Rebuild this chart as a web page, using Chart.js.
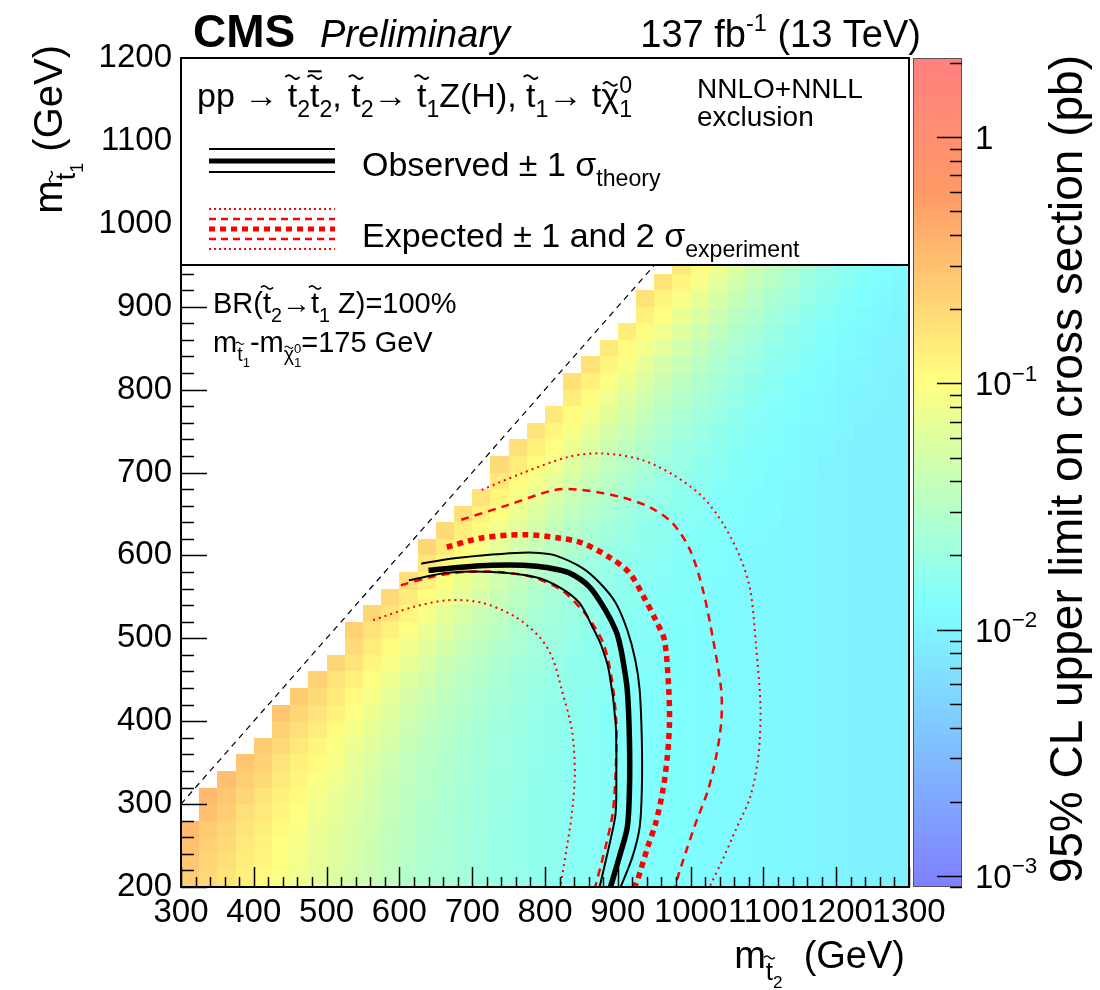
<!DOCTYPE html>
<html>
<head>
<meta charset="utf-8">
<script src="https://cdn.jsdelivr.net/npm/chart.js@4.4.0/dist/chart.umd.min.js"></script>
<style>
  html, body { margin: 0; padding: 0; background: #fff; }
</style>
</head>
<body>
<canvas id="limitChart" width="1100" height="990"></canvas>
<script>
const _ = null;
const FONT = '"Liberation Sans", Arial, Helvetica, sans-serif';

// bin edges of the limit map (GeV)
const mStop2Edges = [300,325,350,375,400,425,450,475,500,525,550,575,600,625,650,675,700,725,750,775,800,
  825,850,875,900,925,950,975,1000,1025,1050,1075,1100,1125,1150,1175,1200,1225,1250,1275,1300];
const mStop1Edges = [200,220,240,260,280,300,320,340,360,380,400,420,440,460,480,500,520,540,560,580,600,
  620,640,660,680,700,720,740,760,780,800,820,840,860,880,900,920,940,960];

// 95% CL upper limit on cross section (pb), one row per m(stop1) bin, one value per m(stop2) bin
const limitRows = [
  [0.25,0.20,0.165,0.13,0.11,0.094,0.080,0.068,0.058,0.049,0.043,0.036,0.031,0.027,0.025,0.0225,0.021,0.019,0.0178,0.0167,0.0158,0.0151,0.0145,0.0139,0.0137,0.0132,0.0128,0.0125,0.0122,0.0119,0.0116,0.0113,0.011,0.0107,0.0104,0.0101,0.0098,0.0096,0.0094,0.0092],
  [0.27,0.21,0.18,0.14,0.12,0.098,0.083,0.070,0.060,0.051,0.044,0.037,0.031,0.027,0.025,0.023,0.021,0.019,0.0178,0.0167,0.0158,0.0151,0.0145,0.0139,0.0137,0.0132,0.0128,0.0125,0.0122,0.0119,0.0116,0.0113,0.011,0.0107,0.0104,0.0101,0.0098,0.0096,0.0094,0.0092],
  [0.30,0.23,0.19,0.15,0.125,0.104,0.087,0.073,0.062,0.052,0.045,0.037,0.032,0.028,0.025,0.023,0.021,0.019,0.0178,0.0167,0.0158,0.0151,0.0145,0.0139,0.0137,0.0132,0.0128,0.0125,0.0122,0.0119,0.0116,0.0113,0.011,0.0107,0.0104,0.0101,0.0098,0.0096,0.0094,0.0092],
  [0.34,0.26,0.21,0.165,0.135,0.11,0.092,0.076,0.064,0.054,0.046,0.038,0.033,0.028,0.026,0.023,0.021,0.019,0.0178,0.0167,0.0158,0.0151,0.0145,0.0139,0.0137,0.0132,0.0128,0.0125,0.0122,0.0119,0.0116,0.0113,0.011,0.0107,0.0104,0.0101,0.0098,0.0096,0.0094,0.0092],
  [_,0.30,0.24,0.18,0.15,0.12,0.099,0.081,0.068,0.056,0.048,0.040,0.034,0.029,0.026,0.024,0.022,0.020,0.0178,0.0167,0.0158,0.0151,0.0145,0.0139,0.0137,0.0132,0.0128,0.0125,0.0122,0.0119,0.0116,0.0113,0.011,0.0107,0.0104,0.0101,0.0098,0.0096,0.0094,0.0092],
  [_,0.34,0.27,0.21,0.165,0.13,0.11,0.088,0.072,0.060,0.050,0.041,0.035,0.030,0.027,0.024,0.022,0.020,0.0185,0.0167,0.0158,0.0151,0.0145,0.0139,0.0137,0.0132,0.0128,0.0125,0.0122,0.0119,0.0116,0.0113,0.011,0.0107,0.0104,0.0101,0.0098,0.0096,0.0094,0.0092],
  [_,_,0.31,0.24,0.19,0.15,0.12,0.096,0.078,0.064,0.053,0.043,0.036,0.031,0.028,0.025,0.022,0.020,0.019,0.017,0.0158,0.0151,0.0145,0.0139,0.0137,0.0132,0.0128,0.0125,0.0122,0.0119,0.0116,0.0113,0.011,0.0107,0.0104,0.0101,0.0098,0.0096,0.0094,0.0092],
  [_,_,_,0.28,0.22,0.17,0.13,0.11,0.086,0.069,0.057,0.046,0.038,0.032,0.029,0.025,0.023,0.021,0.019,0.0175,0.0165,0.0151,0.0145,0.0139,0.0137,0.0132,0.0128,0.0125,0.0122,0.0119,0.0116,0.0113,0.011,0.0107,0.0104,0.0101,0.0098,0.0096,0.0094,0.0092],
  [_,_,_,_,0.25,0.20,0.15,0.12,0.096,0.076,0.062,0.050,0.041,0.034,0.030,0.026,0.024,0.021,0.019,0.018,0.017,0.0156,0.0145,0.0139,0.0137,0.0132,0.0128,0.0125,0.0122,0.0119,0.0116,0.0113,0.011,0.0107,0.0104,0.0101,0.0098,0.0096,0.0094,0.0092],
  [_,_,_,_,_,0.23,0.18,0.14,0.11,0.086,0.069,0.055,0.044,0.037,0.032,0.027,0.024,0.022,0.020,0.018,0.017,0.016,0.015,0.0139,0.0137,0.0132,0.0128,0.0125,0.0122,0.0119,0.0116,0.0113,0.011,0.0107,0.0104,0.0101,0.0098,0.0096,0.0094,0.0092],
  [_,_,_,_,_,0.28,0.21,0.16,0.125,0.097,0.077,0.061,0.049,0.040,0.034,0.029,0.026,0.023,0.020,0.0185,0.017,0.016,0.015,0.0139,0.0137,0.0132,0.0128,0.0125,0.0122,0.0119,0.0116,0.0113,0.011,0.0107,0.0104,0.0101,0.0098,0.0096,0.0094,0.0092],
  [_,_,_,_,_,_,0.25,0.19,0.15,0.11,0.088,0.068,0.054,0.044,0.037,0.031,0.027,0.024,0.021,0.019,0.0175,0.016,0.015,0.0145,0.0137,0.0132,0.0128,0.0125,0.0122,0.0119,0.0116,0.0113,0.011,0.0107,0.0104,0.0101,0.0098,0.0096,0.0094,0.0092],
  [_,_,_,_,_,_,_,0.23,0.17,0.13,0.10,0.079,0.061,0.049,0.040,0.034,0.029,0.025,0.022,0.020,0.018,0.017,0.016,0.015,0.014,0.0132,0.0128,0.0125,0.0122,0.0119,0.0116,0.0113,0.011,0.0107,0.0104,0.0101,0.0098,0.0096,0.0094,0.0092],
  [_,_,_,_,_,_,_,_,0.21,0.16,0.12,0.092,0.071,0.056,0.045,0.037,0.031,0.027,0.023,0.021,0.019,0.017,0.016,0.015,0.0145,0.014,0.0128,0.0125,0.0122,0.0119,0.0116,0.0113,0.011,0.0107,0.0104,0.0101,0.0098,0.0096,0.0094,0.0092],
  [_,_,_,_,_,_,_,_,_,0.19,0.14,0.11,0.083,0.064,0.052,0.042,0.035,0.029,0.025,0.022,0.020,0.018,0.016,0.015,0.0147,0.0139,0.0133,0.0125,0.0122,0.0119,0.0116,0.0113,0.011,0.0107,0.0104,0.0101,0.0098,0.0096,0.0094,0.0092],
  [_,_,_,_,_,_,_,_,_,0.23,0.17,0.13,0.099,0.076,0.060,0.047,0.039,0.032,0.027,0.023,0.021,0.019,0.017,0.0156,0.0149,0.0141,0.0134,0.0125,0.0122,0.0119,0.0116,0.0113,0.011,0.0107,0.0104,0.0101,0.0098,0.0096,0.0094,0.0092],
  [_,_,_,_,_,_,_,_,_,_,0.21,0.16,0.12,0.090,0.070,0.055,0.044,0.036,0.030,0.025,0.022,0.020,0.018,0.016,0.0153,0.0144,0.0137,0.0131,0.0122,0.0119,0.0116,0.0113,0.011,0.0107,0.0104,0.0101,0.0098,0.0096,0.0094,0.0092],
  [_,_,_,_,_,_,_,_,_,_,_,0.20,0.145,0.11,0.084,0.065,0.051,0.041,0.033,0.028,0.024,0.021,0.019,0.017,0.016,0.0148,0.0139,0.0132,0.0128,0.0119,0.0116,0.0113,0.011,0.0107,0.0104,0.0101,0.0098,0.0096,0.0094,0.0092],
  [_,_,_,_,_,_,_,_,_,_,_,_,0.18,0.13,0.10,0.077,0.060,0.047,0.038,0.031,0.026,0.023,0.020,0.018,0.0165,0.0151,0.0142,0.0135,0.0129,0.0124,0.0116,0.0113,0.011,0.0107,0.0104,0.0101,0.0098,0.0096,0.0094,0.0092],
  [_,_,_,_,_,_,_,_,_,_,_,_,_,0.165,0.12,0.093,0.072,0.056,0.044,0.036,0.029,0.025,0.021,0.019,0.017,0.0157,0.0146,0.0138,0.0132,0.0126,0.0121,0.0113,0.011,0.0107,0.0104,0.0101,0.0098,0.0096,0.0094,0.0092],
  [_,_,_,_,_,_,_,_,_,_,_,_,_,0.21,0.15,0.11,0.087,0.066,0.052,0.041,0.033,0.028,0.024,0.020,0.018,0.0165,0.0152,0.0142,0.0134,0.0127,0.0122,0.0113,0.011,0.0107,0.0104,0.0101,0.0098,0.0096,0.0094,0.0092],
  [_,_,_,_,_,_,_,_,_,_,_,_,_,_,0.19,0.14,0.11,0.080,0.062,0.048,0.038,0.031,0.026,0.022,0.020,0.017,0.0158,0.0147,0.0137,0.0131,0.0124,0.0119,0.011,0.0107,0.0104,0.0101,0.0098,0.0096,0.0094,0.0092],
  [_,_,_,_,_,_,_,_,_,_,_,_,_,_,_,0.18,0.13,0.098,0.075,0.058,0.045,0.036,0.030,0.025,0.021,0.019,0.0167,0.0153,0.0143,0.0134,0.0126,0.012,0.0116,0.0107,0.0104,0.0101,0.0098,0.0096,0.0094,0.0092],
  [_,_,_,_,_,_,_,_,_,_,_,_,_,_,_,_,0.16,0.12,0.091,0.069,0.054,0.042,0.034,0.028,0.024,0.020,0.018,0.0162,0.0148,0.0137,0.013,0.0122,0.0117,0.0112,0.0104,0.0101,0.0098,0.0096,0.0094,0.0092],
  [_,_,_,_,_,_,_,_,_,_,_,_,_,_,_,_,_,0.15,0.11,0.085,0.065,0.050,0.040,0.032,0.027,0.022,0.019,0.017,0.0156,0.0143,0.0133,0.0126,0.0119,0.0114,0.0109,0.0101,0.0098,0.0096,0.0094,0.0092],
  [_,_,_,_,_,_,_,_,_,_,_,_,_,_,_,_,_,0.19,0.14,0.105,0.079,0.060,0.047,0.037,0.030,0.025,0.021,0.019,0.0166,0.0151,0.0139,0.0129,0.0121,0.0115,0.011,0.0101,0.0098,0.0096,0.0094,0.0092],
  [_,_,_,_,_,_,_,_,_,_,_,_,_,_,_,_,_,_,0.18,0.13,0.098,0.074,0.057,0.044,0.035,0.029,0.024,0.020,0.018,0.016,0.0145,0.0134,0.0125,0.0118,0.0112,0.0107,0.0098,0.0096,0.0094,0.0092],
  [_,_,_,_,_,_,_,_,_,_,_,_,_,_,_,_,_,_,_,0.16,0.12,0.091,0.069,0.053,0.042,0.033,0.027,0.023,0.020,0.017,0.0154,0.014,0.013,0.0121,0.0114,0.0108,0.0104,0.0096,0.0094,0.0092],
  [_,_,_,_,_,_,_,_,_,_,_,_,_,_,_,_,_,_,_,_,0.15,0.11,0.085,0.064,0.050,0.039,0.031,0.026,0.022,0.019,0.0165,0.0148,0.0135,0.0125,0.0117,0.011,0.0105,0.010,0.0094,0.0092],
  [_,_,_,_,_,_,_,_,_,_,_,_,_,_,_,_,_,_,_,_,_,0.14,0.105,0.079,0.060,0.047,0.037,0.030,0.025,0.021,0.018,0.0159,0.0143,0.013,0.012,0.0113,0.0107,0.0103,0.0098,0.0095],
  [_,_,_,_,_,_,_,_,_,_,_,_,_,_,_,_,_,_,_,_,_,0.18,0.13,0.098,0.074,0.056,0.044,0.035,0.028,0.023,0.020,0.017,0.0152,0.0137,0.0126,0.0116,0.0109,0.0104,0.0099,0.0095],
  [_,_,_,_,_,_,_,_,_,_,_,_,_,_,_,_,_,_,_,_,_,_,0.17,0.12,0.092,0.069,0.053,0.041,0.033,0.027,0.022,0.019,0.0164,0.0145,0.0132,0.0121,0.0112,0.0107,0.0101,0.0097],
  [_,_,_,_,_,_,_,_,_,_,_,_,_,_,_,_,_,_,_,_,_,_,_,0.15,0.11,0.085,0.065,0.050,0.039,0.031,0.025,0.021,0.018,0.0158,0.014,0.0126,0.0117,0.011,0.0103,0.0098],
  [_,_,_,_,_,_,_,_,_,_,_,_,_,_,_,_,_,_,_,_,_,_,_,_,0.14,0.11,0.080,0.060,0.047,0.037,0.029,0.024,0.020,0.017,0.015,0.0134,0.0122,0.0113,0.0107,0.010],
  [_,_,_,_,_,_,_,_,_,_,_,_,_,_,_,_,_,_,_,_,_,_,_,_,_,0.13,0.099,0.075,0.057,0.044,0.034,0.028,0.023,0.019,0.0164,0.0144,0.0129,0.0118,0.0109,0.0103],
  [_,_,_,_,_,_,_,_,_,_,_,_,_,_,_,_,_,_,_,_,_,_,_,_,_,0.17,0.12,0.093,0.070,0.053,0.041,0.032,0.026,0.022,0.018,0.0156,0.0138,0.0125,0.0114,0.0106],
  [_,_,_,_,_,_,_,_,_,_,_,_,_,_,_,_,_,_,_,_,_,_,_,_,_,_,0.16,0.12,0.086,0.065,0.050,0.039,0.031,0.025,0.020,0.017,0.015,0.0132,0.012,0.0111],
  [_,_,_,_,_,_,_,_,_,_,_,_,_,_,_,_,_,_,_,_,_,_,_,_,_,_,_,0.15,0.11,0.081,0.061,0.047,0.036,0.029,0.023,0.019,0.0164,0.0144,0.0128,0.0116]
];

// exclusion contours, [m(stop2), m(stop1)] in GeV
const observed = [[640,582],[690,586],[727,588],[770,588],[805,585],[833,579],[861,562],[883,534],[897,510],
  [902,496],[907,474],[913,438],[916,377],[916,317],[913,272],[902,236],[890,200]];
const observedUp = [[630,590],[670,596],[713,600],[760,603],[792,603],[814,600],[851,585],[875,567],[897,543],
  [913,510],[924,474],[930,438],[933,377],[933,317],[930,272],[920,236],[904,200]];
const observedDown = [[613,570],[667,579],[727,580],[786,574],[819,562],[847,543],[865,514],[877,492],[888,460],
  [897,398],[898,338],[897,289],[890,257],[875,200]];
const expected = [[665,610],[713,621],[772,625],[819,621],[851,615],[888,598],[916,579],[938,546],[952,522],
  [964,498],[970,438],[971,398],[968,357],[962,317],[952,277],[941,248],[927,208],[923,200]];
const expectedUp = [[685,643],[750,661],[814,679],[851,679],[906,670],[944,658],[975,639],[999,607],[1017,558],
  [1031,498],[1042,438],[1042,398],[1035,357],[1024,317],[1007,277],[993,241],[978,200]];
const expectedDown = [[602,564],[644,574],[690,580],[736,580],[782,574],[823,558],[851,534],[868,514],[881,492],
  [891,455],[898,398],[897,338],[893,289],[883,248],[869,200]];
const expected2Up = [[713,679],[768,699],[833,719],[879,723],[934,715],[980,695],[1017,670],[1044,639],[1068,598],
  [1082,558],[1090,490],[1096,417],[1093,357],[1082,309],[1062,269],[1044,233],[1026,200]];
const expected2Down = [[564,522],[620,538],[667,546],[713,543],[759,526],[792,502],[810,477],[823,438],[837,389],
  [841,338],[837,289],[830,248],[821,200]];
const diagonalLine = [[300,300],[1200,1200]];

const xTickValues = [300,400,500,600,700,800,900,1000,1100,1200,1300];
const yTickValues = [200,300,400,500,600,700,800,900,1000,1100,1200];
const zTickValues = [0.001,0.01,0.1,1];
const zTickBase = ['10','10','10','1'];
const zTickExp = ['\u22123','\u22122','\u22121',''];
const zMin = 0.0009, zMax = 2.1;
const legendBottom = 950;

// colour palette of the limit map
const paletteStops = [0, 0.34, 0.61, 0.84, 1];
const paletteR = [128, 128, 255, 255, 255];
const paletteG = [128, 255, 255, 153, 128];
const paletteB = [255, 255, 128, 102, 128];

function paletteAt(f) {
    let i = 0;
    while (i < paletteStops.length - 2 && f > paletteStops[i + 1]) i++;
    const t = Math.min(1, Math.max(0, (f - paletteStops[i]) / (paletteStops[i + 1] - paletteStops[i])));
    const r = Math.round(paletteR[i] + (paletteR[i + 1] - paletteR[i]) * t);
    const g = Math.round(paletteG[i] + (paletteG[i + 1] - paletteG[i]) * t);
    const b = Math.round(paletteB[i] + (paletteB[i + 1] - paletteB[i]) * t);
    return `rgb(${r},${g},${b})`;
}

function zColor(z, v) {
    const f = (z.bottom - z.getPixelForValue(v)) / (z.bottom - z.top);
    return paletteAt(Math.min(1, Math.max(0, f)));
}

function drawTilde(ctx, cx, ty, w, lw) {
    ctx.save();
    ctx.lineWidth = lw;
    ctx.strokeStyle = '#000';
    ctx.beginPath();
    for (let i = 0; i <= 16; i++) {
        const px = cx - w / 2 + w * i / 16;
        const py = ty - Math.sin(Math.PI * 2 * i / 16) * w * 0.13;
        if (i === 0) ctx.moveTo(px, py); else ctx.lineTo(px, py);
    }
    ctx.stroke();
    ctx.restore();
}

// draws a run of text pieces (sub/superscripts, tildes); returns the width
function drawRich(ctx, x, y, parts, size, dryRun) {
    let cx = x;
    for (const p of parts) {
        const s = size * (p.s || 1);
        const by = y + size * (p.dy || 0);
        ctx.font = `${p.style ? p.style + ' ' : ''}${s}px ${FONT}`;
        const w = ctx.measureText(p.t).width;
        if (!dryRun) {
            ctx.fillText(p.t, cx, by);
            if (p.tilde) {
                const ty = by - s * (p.tilde === 'low' ? 0.68 : 0.88);
                drawTilde(ctx, cx + w / 2, ty, s * 0.42, Math.max(1, s * 0.055));
                if (p.bar) ctx.fillRect(cx + w / 2 - s * 0.2, ty - s * 0.2, s * 0.4, Math.max(1, s * 0.06));
            }
        }
        if (!p.keep) cx += w;
    }
    return cx - x;
}

const heatmapPlugin = {
    id: 'heatmap',
    beforeDatasetsDraw(chart) {
        const {ctx, chartArea: a, scales} = chart;
        const x = scales.x, y = scales.y, z = scales.zAxis;
        ctx.save();
        ctx.beginPath();
        ctx.rect(a.left, a.top, a.right - a.left, a.bottom - a.top);
        ctx.clip();
        for (let i = 0; i < limitRows.length; i++) {
            const y0 = Math.round(y.getPixelForValue(mStop1Edges[i]));
            const y1 = Math.round(y.getPixelForValue(mStop1Edges[i + 1]));
            limitRows[i].forEach((v, k) => {
                if (v === null) return;
                const x0 = Math.round(x.getPixelForValue(mStop2Edges[k]));
                const x1 = Math.round(x.getPixelForValue(mStop2Edges[k + 1]));
                ctx.fillStyle = zColor(z, v);
                ctx.fillRect(x0, y1, x1 - x0, y0 - y1);
            });
        }
        ctx.restore();
    }
};

const framePlugin = {
    id: 'rootFrame',
    afterDatasetsDraw(chart) {
        const {ctx, chartArea: a, scales} = chart;
        const x = scales.x, y = scales.y, z = scales.zAxis;
        ctx.save();
        ctx.strokeStyle = '#000';
        ctx.lineWidth = 1.5;
        ctx.beginPath();
        for (let v = 300; v <= 1300; v += 20) {
            const px = Math.round(x.getPixelForValue(v)) + 0.5;
            const len = v % 100 === 0 ? 20 : 10;
            ctx.moveTo(px, a.bottom);
            ctx.lineTo(px, a.bottom - len);
        }
        for (let v = 200; v <= 1200; v += 20) {
            const py = Math.round(y.getPixelForValue(v)) + 0.5;
            const len = v % 100 === 0 ? 26 : 13;
            ctx.moveTo(a.left, py);
            ctx.lineTo(a.left + len, py);
        }
        ctx.stroke();

        // legend box
        const lb = Math.round(y.getPixelForValue(legendBottom));
        ctx.fillStyle = '#fff';
        ctx.fillRect(a.left, a.top, a.right - a.left, lb - a.top);
        ctx.lineWidth = 2;
        ctx.strokeRect(a.left, a.top, a.right - a.left, lb - a.top);

        // legend line samples
        const lx0 = a.left + 28, lx1 = a.left + 154;
        const sample = (yy, color, width, dash) => {
            ctx.beginPath();
            ctx.strokeStyle = color;
            ctx.lineWidth = width;
            ctx.setLineDash(dash);
            ctx.moveTo(lx0, yy);
            ctx.lineTo(lx1, yy);
            ctx.stroke();
        };
        sample(149, '#000', 2, []);
        sample(161, '#000', 5, []);
        sample(172, '#000', 2, []);
        sample(209, '#ff0000', 2, [2, 3]);
        sample(219, '#ff0000', 2.5, [7, 5]);
        sample(229, '#ff0000', 5, [6, 5]);
        sample(239, '#ff0000', 2.5, [7, 5]);
        sample(249, '#ff0000', 2, [2, 3]);
        ctx.setLineDash([]);

        // frame
        ctx.strokeStyle = '#000';
        ctx.lineWidth = 2;
        ctx.strokeRect(a.left, a.top, a.right - a.left, a.bottom - a.top);

        // colour bar
        const cb0 = a.right + 4, cb1 = a.right + 53;
        const grad = ctx.createLinearGradient(0, z.bottom, 0, z.top);
        paletteStops.forEach(s => grad.addColorStop(s, paletteAt(s)));
        ctx.fillStyle = grad;
        ctx.fillRect(cb0, z.top, cb1 - cb0, z.bottom - z.top);
        ctx.lineWidth = 1;
        ctx.strokeStyle = '#555';
        ctx.strokeRect(cb0 + 0.5, z.top + 0.5, cb1 - cb0 - 1, z.bottom - z.top - 1);
        ctx.strokeStyle = '#000';
        ctx.lineWidth = 1.5;
        ctx.beginPath();
        for (let e = -4; e <= 0; e++) {
            for (let m = 1; m <= 9; m++) {
                const v = m * Math.pow(10, e);
                if (v < zMin) continue;
                if (v > zMax) break;
                const py = Math.round(z.getPixelForValue(v)) + 0.5;
                const len = m === 1 ? 25 : 12;
                ctx.moveTo(cb1, py);
                ctx.lineTo(cb1 - len, py);
            }
        }
        ctx.stroke();
        ctx.restore();
    }
};

const textPlugin = {
    id: 'rootTexts',
    afterDraw(chart) {
        const ctx = chart.ctx;
        const z = chart.scales.zAxis;
        ctx.save();
        ctx.fillStyle = '#000';
        ctx.textAlign = 'left';
        ctx.textBaseline = 'alphabetic';

        drawRich(ctx, 193, 47, [{t: 'CMS', style: 'bold'}], 46);
        drawRich(ctx, 320, 47, [{t: 'Preliminary', style: 'italic'}], 38);
        const lumi = [{t: '137 fb'}, {t: '-1', s: 0.62, dy: -0.42}, {t: ' (13 TeV)'}];
        const lw = drawRich(ctx, 0, 0, lumi, 38, true);
        drawRich(ctx, 921 - lw, 47, lumi, 38);

        // colour bar labels
        zTickValues.forEach((v, i) => {
            const py = z.getPixelForValue(v) + 12;
            drawRich(ctx, 975, py, [{t: zTickBase[i]}, {t: zTickExp[i], s: 0.68, dy: -0.45}], 33);
        });

        // legend header
        const sub = (t) => ({t: t, s: 0.68, dy: 0.3});
        drawRich(ctx, 197, 107, [
            {t: 'pp '}, {t: '\u2192 '}, {t: 't', tilde: 1}, sub('2'), {t: 't', tilde: 1, bar: 1}, sub('2'),
            {t: ', '}, {t: 't', tilde: 1}, sub('2'), {t: '\u2192 '}, {t: 't', tilde: 1}, sub('1'),
            {t: 'Z(H), '}, {t: 't', tilde: 1}, sub('1'), {t: '\u2192 t'}, {t: '\u03C7', tilde: 'low'},
            {t: '1', s: 0.68, dy: 0.3, keep: 1}, {t: '0', s: 0.68, dy: -0.42}
        ], 34);
        drawRich(ctx, 697, 98, [{t: 'NNLO+NNLL'}], 28);
        drawRich(ctx, 697, 126, [{t: 'exclusion'}], 28);
        drawRich(ctx, 362, 176, [{t: 'Observed \u00B1 1 \u03C3'}, sub('theory')], 34);
        drawRich(ctx, 362, 247, [{t: 'Expected \u00B1 1 and 2 \u03C3'}, sub('experiment')], 34);

        // model annotation
        drawRich(ctx, 213, 313, [
            {t: 'BR('}, {t: 't', tilde: 1}, sub('2'), {t: '\u2192'}, {t: 't', tilde: 1}, sub('1'), {t: ' Z)=100%'}
        ], 29);
        drawRich(ctx, 213, 352, [
            {t: 'm'}, {t: 't', s: 0.68, dy: 0.3, tilde: 1}, {t: '1', s: 0.45, dy: 0.5}, {t: '-m'},
            {t: '\u03C7', s: 0.68, dy: 0.3, tilde: 'low'}, {t: '1', s: 0.45, dy: 0.5, keep: 1},
            {t: '0', s: 0.45, dy: 0.02}, {t: '=175 GeV'}
        ], 29);

        // x axis title
        const xt = [{t: 'm'}, {t: 't', s: 0.68, dy: 0.32, tilde: 1}, {t: '2', s: 0.45, dy: 0.52}, {t: '  (GeV)'}];
        const xw = drawRich(ctx, 0, 0, xt, 38, true);
        drawRich(ctx, 905 - xw, 968, xt, 38);

        // y axis title
        const yt = [{t: 'm'}, {t: 't', s: 0.68, dy: 0.32, tilde: 1}, {t: '1', s: 0.45, dy: 0.52}, {t: ' (GeV)'}];
        const yw = drawRich(ctx, 0, 0, yt, 40, true);
        ctx.save();
        ctx.translate(62, 0);
        ctx.rotate(-Math.PI / 2);
        drawRich(ctx, -45 - yw, 0, yt, 40);
        ctx.restore();

        // colour bar title
        const zt = [{t: '95% CL upper limit on cross section (pb)'}];
        const zw = drawRich(ctx, 0, 0, zt, 46, true);
        ctx.save();
        ctx.translate(1082, 0);
        ctx.rotate(-Math.PI / 2);
        drawRich(ctx, -55 - zw, 0, zt, 46);
        ctx.restore();
        ctx.restore();
    }
};

function lineSet(label, pts, color, width, dash) {
    return {
        label: label,
        data: pts.map(p => ({x: p[0], y: p[1]})),
        showLine: true,
        borderColor: color,
        backgroundColor: color,
        borderWidth: width,
        borderDash: dash,
        borderCapStyle: 'butt',
        pointRadius: 0,
        tension: 0.3,
        fill: false,
        clip: 0
    };
}

const tickFont = {family: 'Liberation Sans', size: 33};

const chart = new Chart(document.getElementById('limitChart'), {
    type: 'scatter',
    data: {
        datasets: [
            lineSet('Observed', observed, '#000', 5.5, []),
            lineSet('Observed +1 sigma theory', observedUp, '#000', 2, []),
            lineSet('Observed -1 sigma theory', observedDown, '#000', 2, []),
            lineSet('Expected', expected, '#ff0000', 5.5, [6, 5]),
            lineSet('Expected +1 sigma', expectedUp, '#ff0000', 2.5, [8, 6]),
            lineSet('Expected -1 sigma', expectedDown, '#ff0000', 2.5, [8, 6]),
            lineSet('Expected +2 sigma', expected2Up, '#ff0000', 2, [2, 4]),
            lineSet('Expected -2 sigma', expected2Down, '#ff0000', 2, [2, 4]),
            lineSet('Kinematic limit', diagonalLine, '#000', 1.2, [6, 5])
        ]
    },
    options: {
        responsive: false,
        animation: false,
        devicePixelRatio: 1,
        layout: {padding: {top: 58, left: 0, right: 0, bottom: 0}},
        plugins: {legend: {display: false}, tooltip: {enabled: false}},
        scales: {
            x: {
                type: 'linear', min: 300, max: 1300,
                afterBuildTicks: s => { s.ticks = xTickValues.map(v => ({value: v})); },
                afterFit: s => { s.height = 103; },
                ticks: {autoSkip: false, maxRotation: 0, color: '#000', font: tickFont, padding: 6,
                    callback: v => String(v)},
                grid: {display: false, drawTicks: false},
                border: {display: false}
            },
            y: {
                type: 'linear', min: 200, max: 1200,
                afterBuildTicks: s => { s.ticks = yTickValues.map(v => ({value: v})); },
                afterFit: s => { s.width = 181; },
                ticks: {autoSkip: false, color: '#000', font: tickFont, padding: 9,
                    callback: v => String(v)},
                grid: {display: false, drawTicks: false},
                border: {display: false}
            },
            zAxis: {
                type: 'logarithmic', axis: 'y', position: 'right', min: zMin, max: zMax,
                afterFit: s => { s.width = 191; },
                ticks: {display: false},
                grid: {display: false, drawTicks: false},
                border: {display: false}
            }
        }
    },
    plugins: [heatmapPlugin, framePlugin, textPlugin]
});

// pin the plot frame to the reference position (top edge at 58 px)
const topShift = chart.chartArea.top - 58;
if (Math.abs(topShift) > 0.5) {
    chart.options.layout.padding.top -= topShift;
    chart.update();
}
</script>
</body>
</html>
